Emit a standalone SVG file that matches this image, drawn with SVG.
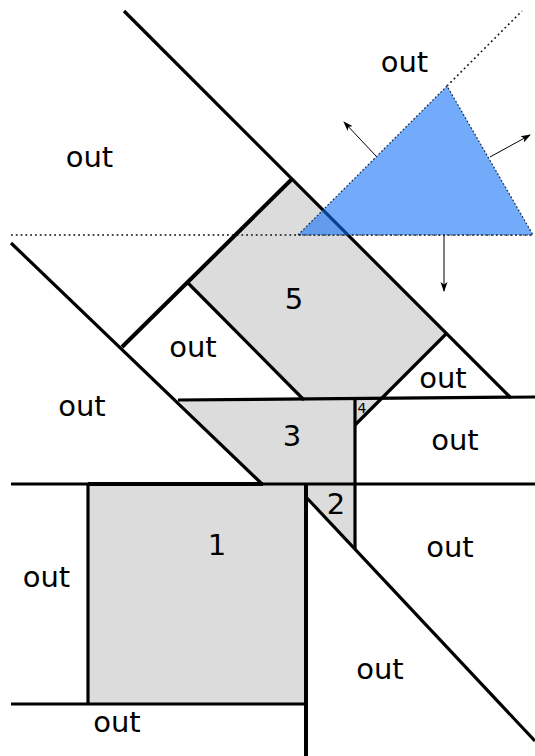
<svg xmlns="http://www.w3.org/2000/svg" width="535" height="756" viewBox="0 0 535 756">
<style>
  .reg { fill: #dcdcdc; stroke: none; }
  .ln { stroke: #000; stroke-width: 3.2; fill: none; stroke-linecap: butt; }
  .thick { stroke-width: 4; }
  .dot { stroke: #111; stroke-width: 1.6; fill: none; stroke-dasharray: 1.8 3; }
  .arr { stroke: #000; stroke-width: 1; fill: none; marker-end: url(#ah); }
  .lbl { font-family: "DejaVu Sans", "Liberation Sans", sans-serif; font-size: 29px; fill: #000; text-anchor: middle; }
  .small { font-size: 14px; }
</style>
<defs>
  <marker id="ah" viewBox="0 0 10 10" refX="9" refY="5" markerWidth="10" markerHeight="10" markerUnits="userSpaceOnUse" orient="auto">
    <path d="M0,1.5 L10,5 L0,8.5 L2.5,5 Z" fill="#000"/>
  </marker>
</defs>
<rect width="535" height="756" fill="#fff"/>

<g id="region5"><polygon class="reg" points="292,179 447,333 380,400 304,400 188,283"/><text class="lbl" x="294" y="309">5</text></g>
<g id="region3"><polygon class="reg" points="178,400 355,400 355,484 262,484"/><text class="lbl" x="292" y="446">3</text></g>
<g id="region4"><polygon class="reg" points="355,400 380,400 355,425"/><text class="lbl small" x="362" y="413">4</text></g>
<g id="region2"><polygon class="reg" points="306,484 355,484 355,549 306,497"/><text class="lbl" x="336" y="514">2</text></g>
<g id="region1"><rect class="reg" x="88" y="484" width="218" height="220"/><text class="lbl" x="217" y="555">1</text></g>

<g id="connectors">
  <line class="ln" x1="124" y1="11" x2="511" y2="398"/>
  <line class="ln" x1="11" y1="243" x2="262" y2="484"/>
  <line class="ln thick" x1="122" y1="347" x2="292" y2="179"/>
  <line class="ln" x1="188" y1="283" x2="304" y2="400"/>
  <line class="ln" x1="447" y1="333" x2="355" y2="425"/>
  <line class="ln" x1="178" y1="400" x2="535" y2="397"/>
  <line class="ln" x1="355" y1="400" x2="355" y2="549"/>
  <line class="ln" x1="11" y1="484" x2="535" y2="484"/>
  <line class="ln thick" x1="88" y1="484" x2="263" y2="484"/>
  <line class="ln thick" x1="306" y1="484" x2="306" y2="756"/>
  <line class="ln" x1="88" y1="484" x2="88" y2="704"/>
  <line class="ln" x1="11" y1="704" x2="306" y2="704"/>
  <line class="ln" x1="306" y1="497" x2="535" y2="741"/>
  <line class="dot" x1="11" y1="235" x2="533" y2="235"/>
  <line class="dot" x1="447" y1="86" x2="522" y2="11"/>
</g>

<g id="triangle">
  <polygon points="298,235 447,86 533,235" fill="#0a6ef5" fill-opacity="0.58" stroke="#1a2a40" stroke-width="1.2" stroke-dasharray="1.8 2"/>
  <line class="arr" x1="376" y1="156" x2="344" y2="122"/>
  <line class="arr" x1="490" y1="157" x2="530" y2="135"/>
  <line class="arr" x1="444" y1="235" x2="444" y2="291"/>
</g>

<g id="labels">
  <text class="lbl" x="89.5" y="167">out</text>
  <text class="lbl" x="404.5" y="72">out</text>
  <text class="lbl" x="193" y="357">out</text>
  <text class="lbl" x="82" y="416">out</text>
  <text class="lbl" x="443" y="388">out</text>
  <text class="lbl" x="455" y="450">out</text>
  <text class="lbl" x="450" y="557">out</text>
  <text class="lbl" x="46.5" y="587">out</text>
  <text class="lbl" x="380" y="679">out</text>
  <text class="lbl" x="117" y="732">out</text>
</g>
</svg>
